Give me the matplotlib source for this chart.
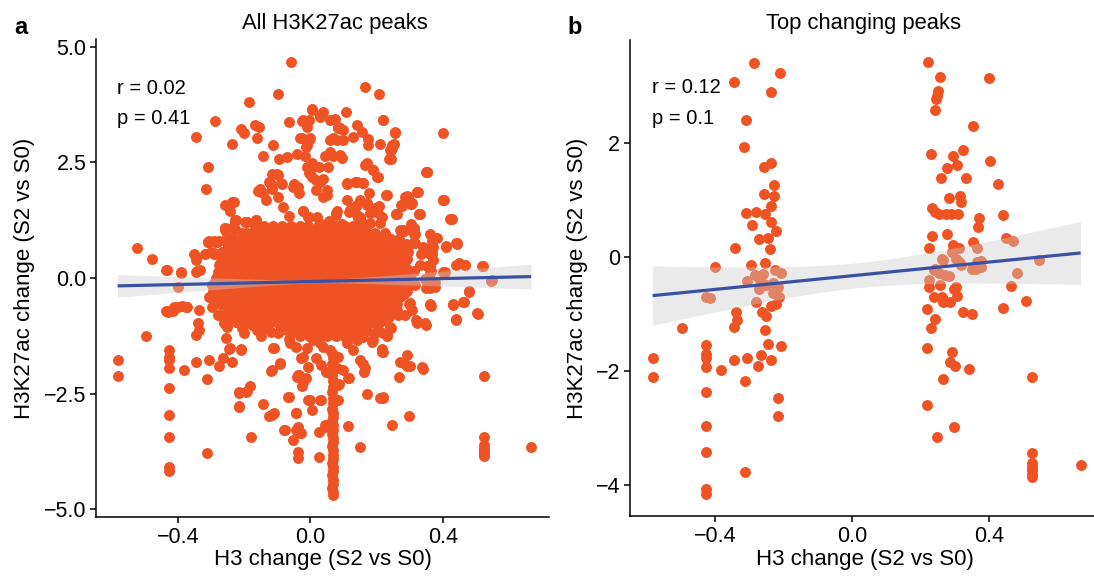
import numpy as np
import matplotlib
matplotlib.use("Agg")
import matplotlib.pyplot as plt
from matplotlib.ticker import FixedLocator, FuncFormatter

plt.rcParams['font.family'] = ['Liberation Sans', 'DejaVu Sans']

POINT_COLOR = "#F05323"
LINE_COLOR = "#3B50A2"
RIBBON_COLOR = "#CCCCCC"

# ---------------------------------------------------------------------------
# Top changing peaks: (H3 change, H3K27ac change), S2 vs S0
# ---------------------------------------------------------------------------
top_left_group = [
    (-0.287, 3.39), (-0.210, 3.22), (-0.346, 3.06), (-0.237, 2.89), (-0.309, 2.40), (-0.316, 1.92),
    (-0.257, 1.57), (-0.237, 1.64), (-0.229, 1.26), (-0.258, 1.09), (-0.229, 1.07), (-0.236, 0.89),
    (-0.309, 0.77), (-0.282, 0.78), (-0.253, 0.75), (-0.291, 0.55), (-0.236, 0.60), (-0.223, 0.45),
    (-0.272, 0.31), (-0.245, 0.32), (-0.241, 0.13), (-0.342, 0.15), (-0.400, -0.19), (-0.296, -0.15),
    (-0.255, -0.11), (-0.226, -0.24), (-0.208, -0.28), (-0.283, -0.32), (-0.307, -0.42), (-0.270, -0.41),
    (-0.252, -0.50), (-0.231, -0.46), (-0.216, -0.53), (-0.231, -0.63), (-0.273, -0.56), (-0.214, -0.71),
    (-0.260, -0.30), (-0.425, -0.71), (-0.415, -0.72), (-0.280, -0.80), (-0.236, -0.87), (-0.223, -0.83),
    (-0.338, -0.98), (-0.262, -0.98), (-0.252, -1.05), (-0.336, -1.12), (-0.346, -1.24), (-0.496, -1.25),
    (-0.255, -1.29), (-0.245, -1.53), (-0.209, -1.56), (-0.427, -1.55), (-0.427, -1.71), (-0.427, -1.77),
    (-0.582, -1.78), (-0.582, -2.12), (-0.427, -1.94), (-0.382, -1.99), (-0.345, -1.81), (-0.306, -1.78),
    (-0.265, -1.72), (-0.238, -1.81), (-0.275, -1.91), (-0.313, -2.18), (-0.427, -2.37), (-0.216, -2.48),
    (-0.216, -2.79), (-0.427, -2.97), (-0.427, -3.43), (-0.313, -3.78), (-0.427, -4.08), (-0.427, -4.17),
]

top_right_group = [
    (0.220, 3.42), (0.256, 3.15), (0.400, 3.14), (0.251, 2.91), (0.247, 2.81), (0.243, 2.76),
    (0.242, 2.57), (0.352, 2.30), (0.230, 1.80), (0.324, 1.87), (0.294, 1.76), (0.403, 1.68),
    (0.275, 1.56), (0.305, 1.60), (0.260, 1.38), (0.331, 1.38), (0.426, 1.27), (0.281, 1.02),
    (0.314, 1.06), (0.317, 0.96), (0.233, 0.86), (0.240, 0.79), (0.254, 0.74), (0.272, 0.74),
    (0.288, 0.74), (0.309, 0.75), (0.371, 0.67), (0.368, 0.52), (0.441, 0.73), (0.233, 0.37),
    (0.277, 0.40), (0.225, 0.15), (0.293, 0.20), (0.312, 0.16), (0.351, 0.25), (0.448, 0.33),
    (0.468, 0.28), (0.363, 0.15), (0.291, 0.08), (0.266, -0.06), (0.307, -0.07), (0.317, -0.15),
    (0.375, -0.08), (0.361, -0.22), (0.240, -0.22), (0.254, -0.29), (0.270, -0.32), (0.480, -0.28),
    (0.546, -0.06), (0.223, -0.41), (0.225, -0.54), (0.463, -0.51), (0.506, -0.78), (0.440, -0.90),
    (0.237, -0.71), (0.262, -0.70), (0.264, -0.79), (0.285, -0.79), (0.298, -0.56), (0.306, -0.69),
    (0.217, -0.92), (0.322, -0.97), (0.350, -1.01), (0.242, -1.09), (0.231, -1.26), (0.219, -1.61),
    (0.291, -1.67), (0.285, -1.85), (0.300, -1.91), (0.340, -1.97), (0.266, -2.15), (0.523, -2.12),
    (0.219, -2.60), (0.297, -2.98), (0.247, -3.17), (0.523, -3.45), (0.523, -3.62), (0.523, -3.69),
    (0.523, -3.74), (0.523, -3.81), (0.523, -3.86), (0.666, -3.65), (0.262, -0.04), (0.283, -0.34),
    (0.302, -0.04), (0.314, -0.11), (0.350, -0.22), (0.376, -0.19), (0.365, -0.09), (0.257, -0.50),
    (0.302, -0.53), (0.237, -0.24),
]

# ---------------------------------------------------------------------------
# Remaining H3K27ac peaks (all peaks = top changing peaks + these)
# ---------------------------------------------------------------------------
upper_peaks = [
    (-0.060, 4.68), (-0.099, 3.98), (-0.184, 3.80), (-0.066, 3.38), (-0.200, 3.13), (-0.168, 3.30),
    (-0.155, 3.26), (-0.162, 3.04), (-0.114, 2.88), (-0.144, 2.65), (-0.096, 2.57), (-0.072, 2.61),
    (-0.039, 2.68), (-0.024, 3.40), (-0.004, 3.42), (0.005, 3.65), (-0.024, 3.04), (-0.004, 2.99),
    (-0.014, 2.84), (-0.099, 2.23), (-0.054, 1.98), (-0.034, 1.83), (-0.119, 2.03), (-0.155, 1.89),
    (-0.134, 1.69), (-0.099, 1.76), (-0.084, 1.54), (-0.190, 1.22), (-0.165, 1.26), (-0.225, 1.26),
    (-0.004, 2.27), (0.017, 2.12), (0.007, 2.41), (-0.011, 2.41), (0.017, 1.90),
    (0.165, 4.13), (0.207, 3.98), (0.107, 3.59), (0.218, 3.41), (0.254, 3.14), (0.140, 3.30),
    (0.155, 3.17), (0.129, 3.06), (0.175, 3.01), (0.175, 2.88), (0.210, 2.89), (0.245, 2.88),
    (0.240, 2.77), (0.238, 2.58), (0.089, 3.24), (0.069, 3.02), (0.059, 2.99), (0.099, 2.99),
    (0.089, 2.66), (0.069, 2.63), (0.094, 2.59), (0.054, 2.41), (0.029, 3.53), (0.059, 3.42),
    (0.084, 3.27), (0.165, 2.45), (0.190, 2.34), (0.205, 2.18), (0.109, 2.03), (0.134, 2.08),
    (0.160, 2.06), (0.177, 1.85), (0.228, 1.80), (0.349, 2.29), (0.290, 1.78), (0.303, 1.60),
    (0.323, 1.86), (0.273, 1.57), (0.258, 1.39), (0.329, 1.39), (0.401, 1.68), (0.423, 1.27),
    (0.280, 1.02), (0.314, 1.08), (0.314, 0.95), (0.150, 1.69), (0.134, 1.54), (0.170, 1.58),
    (0.195, 1.51), (0.205, 1.40), (0.180, 1.40), (0.079, 1.46), (0.077, 1.36), (0.117, 1.42),
    (0.144, 1.29), (0.049, 1.80), (0.039, 2.14), (-0.116, 2.25), (-0.086, 2.04), (-0.153, 1.92),
    (-0.124, 2.08), (-0.021, 1.44), (-0.005, 1.32), (0.033, 1.16), (0.076, 1.40), (0.055, 1.24),
    (0.095, 1.16), (0.141, 1.36), (0.152, 1.24), (0.184, 1.48), (0.206, 1.56), (0.216, 1.32),
    (0.270, 1.04), (0.362, 0.96), (0.367, 0.80), (0.303, 1.16),
    (-0.158, 1.88), (-0.143, 1.83), (-0.117, 1.92), (-0.100, 2.25), (-0.090, 2.05), (-0.064, 1.34),
    (-0.050, 2.03), (-0.037, 1.98), (-0.022, 1.44), (-0.007, 1.33), (0.019, 1.33), (0.039, 1.76),
    (0.049, 1.90), (0.029, 2.08), (0.004, 2.19), (0.027, 2.41), (0.044, 2.63), (0.059, 2.73),
    (0.079, 2.99), (0.084, 3.24), (0.099, 3.20), (0.074, 3.44), (0.039, 3.60), (0.029, 3.49),
    (0.004, 3.64), (-0.022, 3.42), (-0.011, 3.27), (-0.032, 3.02), (-0.002, 3.02), (-0.011, 2.88),
    (-0.017, 2.63), (0.004, 2.48), (0.109, 2.05), (0.140, 2.08), (0.160, 2.05), (0.170, 2.48),
    (0.190, 2.34), (0.200, 2.19), (0.140, 1.58), (0.170, 1.62), (0.200, 1.47), (0.119, 1.47),
    (0.150, 1.33), (0.109, 1.69), (0.180, 1.18), (0.210, 1.18), (0.257, 1.38), (0.276, 1.58),
    (0.286, 1.76), (0.306, 1.62), (0.321, 1.87), (0.329, 1.39), (0.351, 2.30), (0.401, 1.69),
    (0.421, 1.27), (0.442, 0.75), (0.409, 0.68), (0.381, 0.86), (0.280, 1.04), (0.311, 1.04),
    (0.316, 0.75), (0.341, 0.68), (0.366, 0.61), (0.371, 0.39),
]

ring_peaks = [
    (-0.523, 0.66), (-0.477, 0.41), (-0.437, 0.18), (-0.390, 0.12), (-0.426, -0.71), (-0.437, -0.71),
    (-0.411, -0.63), (-0.307, 0.81), (-0.291, 0.81), (-0.277, 0.81), (-0.258, 1.04), (-0.242, 1.44),
    (-0.231, 1.64), (-0.229, 1.24), (-0.247, 1.56), (-0.318, 0.53), (-0.345, 0.45), (-0.350, 0.53),
    (-0.291, 0.53), (-0.269, 0.37), (-0.247, 0.29), (-0.334, 0.17), (-0.344, 0.46), (-0.344, 0.39),
    (-0.309, 0.79), (-0.289, 0.79), (-0.299, 0.57), (-0.268, 0.57), (-0.258, 1.08), (-0.233, 1.11),
    (-0.253, 0.89), (-0.198, 1.22), (-0.163, 1.26), (-0.223, 0.79), (-0.193, 0.97), (-0.434, 0.17),
    (-0.389, 0.10), (-0.344, 0.14), (-0.294, -0.15), (-0.431, -0.73), (-0.416, -0.66), (-0.386, -0.61),
    (-0.371, -0.63), (-0.336, -0.69), (-0.296, -0.62), (-0.270, -0.80), (-0.255, -0.98), (-0.245, -0.91),
    (-0.399, -0.62), (-0.374, -0.62), (0.408, 0.70), (0.440, 0.75), (0.518, 0.27), (0.430, -0.57),
    (0.362, 0.53), (0.367, 0.69), (0.335, 0.53), (0.330, 0.29), (0.346, -0.03), (0.351, -0.19),
    (0.367, -0.17), (0.362, -0.57), (0.319, -0.91), (0.346, -0.98), (0.400, 0.13), (0.364, -0.60),
    (0.430, -0.58), (0.321, -0.96), (0.361, -0.58), (0.459, -0.51), (0.502, -0.76), (0.439, -0.89),
    (0.479, -0.30), (0.520, 0.25), (0.547, -0.04), (0.406, 0.14), (0.440, 0.28), (0.467, 0.28),
    (0.361, -0.19), (0.361, 0.10), (0.361, 0.25),
]

lower_peaks = [
    (-0.200, -1.20), (-0.190, -0.95), (-0.160, -1.13), (-0.134, -1.09), (-0.119, -2.01), (-0.091, -1.83),
    (-0.109, -1.52), (-0.039, -2.14), (-0.019, -2.21), (-0.024, -2.34), (-0.064, -1.31), (-0.044, -1.49),
    (-0.029, -1.74), (-0.008, -1.92), (-0.014, -2.17), (-0.034, -2.10), (0.017, -1.74), (0.032, -1.88),
    (0.047, -2.03), (-0.190, -2.44), (-0.182, -2.33), (-0.180, -3.45), (-0.144, -2.73), (-0.126, -2.99),
    (-0.111, -2.92), (-0.079, -3.28), (-0.066, -2.57), (-0.044, -2.93), (-0.052, -3.51), (-0.038, -3.22),
    (-0.029, -3.36), (-0.036, -3.76), (-0.038, -3.90), (0.027, -3.87), (-0.008, -2.64), (0.005, -2.86),
    (0.032, -2.64), (0.027, -3.33), (0.114, -3.20), (0.150, -3.65), (0.170, -2.51), (0.210, -2.59),
    (0.218, -2.58), (0.215, -1.60), (0.158, -1.86), (0.162, -2.03), (0.117, -2.17), (0.087, -2.29),
    (0.079, -1.95), (0.054, -2.03), (0.185, -1.38), (0.240, -1.05), (0.230, -1.23), (0.044, -3.22),
    (0.084, -2.64), (0.270, -1.82), (0.292, -1.90), (0.337, -1.92), (0.216, -1.54),
    (-0.022, -1.13), (0.008, -1.34), (0.039, -1.49), (0.059, -1.56), (0.084, -1.70), (0.099, -1.99),
    (0.129, -1.56), (0.150, -1.77), (0.165, -1.95), (0.140, -1.34), (0.190, -1.34), (0.220, -1.20),
    (-0.022, -1.70), (-0.037, -2.10), (-0.022, -2.24), (-0.062, -1.41), (-0.097, -1.20), (-0.112, -1.52),
    (-0.117, -1.99), (-0.092, -1.85), (-0.002, -2.64), (0.029, -2.64), (0.079, -2.64), (0.084, -2.32),
    (0.114, -2.17), (0.044, -3.18), (-0.042, -3.29), (-0.032, -3.36), (-0.067, -2.57), (-0.077, -3.29),
    (-0.042, -2.93), (-0.117, -2.97), (-0.215, -2.46), (-0.193, -2.46), (-0.215, -2.77), (-0.243, -1.52),
    (-0.210, -1.54), (0.120, -1.10), (0.100, -1.25), (0.170, -1.15), (-0.150, -1.25), (-0.060, -1.20),
    (-0.225, -0.96), (-0.205, -1.08), (-0.175, -1.02), (-0.145, -0.99), (-0.120, -1.16), (-0.088, -1.08),
    (0.205, -1.02), (0.195, -1.18), (0.160, -1.28), (0.110, -1.40), (0.030, -1.40), (-0.010, -1.52),
]

# dense run of peaks sharing the same H3 change value
column_peaks_x = [0.066, 0.068, 0.066, 0.067, 0.065, 0.068, 0.067, 0.066, 0.068, 0.067, 0.066,
                  0.067, 0.068, 0.066, 0.067, 0.067, 0.066, 0.068, 0.067, 0.066, 0.067, 0.068,
                  0.067, 0.066, 0.067, 0.068, 0.066, 0.067, 0.067, 0.066, 0.067, 0.067]
column_peaks_y = [-1.62, -1.74, -1.86, -1.98, -2.10, -2.22, -2.35, -2.47, -2.59, -2.71, -2.83,
                  -2.92, -3.01, -3.10, -3.19, -3.28, -3.37, -3.46, -3.55, -3.64, -3.73, -3.82,
                  -3.91, -4.00, -4.09, -4.18, -4.27, -4.36, -4.45, -4.54, -4.62, -4.70]

# bulk of the peaks: (H3K27ac change, [H3 change values])
core_rows = [
    (1.12, [-0.168, -0.139, -0.114, -0.085, -0.060, -0.031, -0.006, 0.023, 0.049, 0.077, 0.104, 0.129, 0.157]),
    (0.98, [-0.205, -0.180, -0.151, -0.126, -0.098, -0.072, -0.044, -0.019, 0.010, 0.035, 0.063, 0.089,
            0.118, 0.143, 0.170, 0.196, 0.224]),
    (0.84, [-0.236, -0.209, -0.183, -0.156, -0.129, -0.103, -0.075, -0.049, -0.022, 0.004, 0.031, 0.058,
            0.084, 0.111, 0.137, 0.164, 0.190, 0.217, 0.243, 0.266]),
    (0.70, [-0.250, -0.222, -0.196, -0.168, -0.142, -0.115, -0.089, -0.061, -0.035, -0.008, 0.018, 0.045,
            0.071, 0.098, 0.124, 0.151, 0.177, 0.204, 0.231, 0.257, 0.283]),
    (0.56, [-0.262, -0.236, -0.208, -0.182, -0.155, -0.128, -0.102, -0.075, -0.048, -0.021, 0.005, 0.032,
            0.058, 0.085, 0.111, 0.138, 0.164, 0.191, 0.218, 0.244, 0.270, 0.296]),
    (0.42, [-0.268, -0.241, -0.214, -0.188, -0.161, -0.134, -0.108, -0.081, -0.055, -0.028, -0.001, 0.025,
            0.052, 0.078, 0.105, 0.132, 0.158, 0.185, 0.211, 0.238, 0.264, 0.290]),
    (0.28, [-0.276, -0.249, -0.222, -0.195, -0.169, -0.142, -0.116, -0.089, -0.062, -0.036, -0.009, 0.018,
            0.044, 0.071, 0.097, 0.124, 0.151, 0.177, 0.204, 0.230, 0.257, 0.283]),
    (0.14, [-0.280, -0.254, -0.227, -0.200, -0.174, -0.147, -0.121, -0.094, -0.067, -0.041, -0.014, 0.012,
            0.039, 0.066, 0.092, 0.119, 0.146, 0.172, 0.199, 0.225, 0.252, 0.279]),
    (0.00, [-0.286, -0.259, -0.233, -0.206, -0.180, -0.153, -0.126, -0.100, -0.073, -0.046, -0.020, 0.007,
            0.033, 0.060, 0.087, 0.113, 0.140, 0.167, 0.193, 0.220, 0.246, 0.273, 0.298]),
    (-0.14, [-0.290, -0.263, -0.237, -0.210, -0.183, -0.157, -0.130, -0.104, -0.077, -0.050, -0.024, 0.003,
             0.029, 0.056, 0.083, 0.109, 0.136, 0.162, 0.189, 0.216, 0.242, 0.269, 0.294]),
    (-0.28, [-0.294, -0.268, -0.241, -0.214, -0.188, -0.161, -0.135, -0.108, -0.081, -0.055, -0.028, -0.002,
             0.025, 0.052, 0.078, 0.105, 0.131, 0.158, 0.185, 0.211, 0.238, 0.264, 0.290]),
    (-0.42, [-0.288, -0.262, -0.235, -0.209, -0.182, -0.155, -0.129, -0.102, -0.075, -0.049, -0.022, 0.004,
             0.031, 0.058, 0.084, 0.111, 0.137, 0.164, 0.191, 0.217, 0.244, 0.270]),
    (-0.56, [-0.270, -0.243, -0.217, -0.190, -0.163, -0.137, -0.110, -0.084, -0.057, -0.030, -0.004, 0.023,
             0.049, 0.076, 0.103, 0.129, 0.156, 0.182, 0.209, 0.236, 0.262]),
    (-0.70, [-0.250, -0.224, -0.198, -0.171, -0.145, -0.118, -0.092, -0.065, -0.038, -0.012, 0.015, 0.041,
             0.068, 0.094, 0.121, 0.148, 0.174, 0.201, 0.227, 0.252]),
    (-0.84, [-0.214, -0.186, -0.160, -0.133, -0.107, -0.080, -0.053, -0.027, 0.000, 0.026, 0.053, 0.080,
             0.106, 0.133, 0.159, 0.186, 0.212, 0.236]),
    (-0.98, [-0.152, -0.126, -0.099, -0.073, -0.046, -0.019, 0.007, 0.034, 0.060, 0.087, 0.114, 0.140,
             0.167, 0.192]),
    (-1.12, [-0.071, -0.045, -0.018, 0.009, 0.035, 0.062, 0.088, 0.115, 0.142, 0.166]),
    (-1.26, [-0.030, -0.004, 0.023, 0.049, 0.076, 0.102, 0.127]),
]

# linear fits (geom_smooth, method = "lm"): line and confidence band half-width
fit_all = dict(intercept=-0.076, slope=0.161, x_mean=0.01, se0=0.03, se_slope=0.41)
fit_top = dict(intercept=-0.335, slope=0.600, x_mean=0.02, se0=0.22, se_slope=0.785)

stats_all = ("r = 0.02", "p = 0.41")
stats_top = ("r = 0.12", "p = 0.1")


def unzip(pairs):
    return [p[0] for p in pairs], [p[1] for p in pairs]


top_x, top_y = unzip(top_left_group + top_right_group)

all_x, all_y = list(top_x), list(top_y)
for group in (upper_peaks, ring_peaks, lower_peaks):
    gx, gy = unzip(group)
    all_x += gx
    all_y += gy
all_x += column_peaks_x
all_y += column_peaks_y
for yv, xs in core_rows:
    all_x += xs
    all_y += [yv] * len(xs)


def minus_fmt(fmt):
    return FuncFormatter(lambda v, pos: (fmt % v).replace("-", "\u2212"))


def style_axes(ax):
    for side in ("top", "right"):
        ax.spines[side].set_visible(False)
    for side in ("left", "bottom"):
        ax.spines[side].set_linewidth(1.1)
        ax.spines[side].set_color("black")
    ax.tick_params(axis="both", direction="out", length=4, width=1.1,
                   colors="black", labelsize=15.5, pad=3)


def draw_fit(ax, xs, fit):
    xg = np.linspace(min(xs), max(xs), 120)
    yg = fit["intercept"] + fit["slope"] * xg
    hw = np.sqrt(fit["se0"] ** 2 + (fit["se_slope"] * (xg - fit["x_mean"])) ** 2)
    ax.fill_between(xg, yg - hw, yg + hw, color=RIBBON_COLOR, alpha=0.4, lw=0, zorder=3)
    ax.plot(xg, yg, color=LINE_COLOR, lw=2.3, zorder=4, solid_capstyle="butt")


W, H = 1094, 578
fig = plt.figure(figsize=(W / 100, H / 100), dpi=100)

ax_a = fig.add_axes([96 / W, 1 - 517 / H, 453 / W, (517 - 38.6) / H])
ax_b = fig.add_axes([630 / W, 1 - 516 / H, (W - 630) / W, (516 - 40) / H])

MS = 62

# panel a: all peaks
ax_a.scatter(all_x, all_y, s=MS, color=POINT_COLOR, linewidths=0, zorder=2)
draw_fit(ax_a, all_x, fit_all)
ax_a.set_xlim(-0.647, 0.72)
ax_a.set_ylim(-5.17, 5.18)
ax_a.xaxis.set_major_locator(FixedLocator([-0.4, 0.0, 0.4]))
ax_a.yaxis.set_major_locator(FixedLocator([-5.0, -2.5, 0.0, 2.5, 5.0]))
ax_a.xaxis.set_major_formatter(minus_fmt("%.1f"))
ax_a.yaxis.set_major_formatter(minus_fmt("%.1f"))
style_axes(ax_a)
ax_a.text(-0.585, 4.11, stats_all[0], fontsize=14.5, va="center", ha="left")
ax_a.text(-0.585, 3.46, stats_all[1], fontsize=14.5, va="center", ha="left")

# panel b: top changing peaks
ax_b.scatter(top_x, top_y, s=MS, color=POINT_COLOR, linewidths=0, zorder=2)
draw_fit(ax_b, top_x, fit_top)
ax_b.set_xlim(-0.648, 0.705)
ax_b.set_ylim(-4.55, 3.80)
ax_b.xaxis.set_major_locator(FixedLocator([-0.4, 0.0, 0.4]))
ax_b.yaxis.set_major_locator(FixedLocator([-4, -2, 0, 2]))
ax_b.xaxis.set_major_formatter(minus_fmt("%.1f"))
ax_b.yaxis.set_major_formatter(minus_fmt("%d"))
style_axes(ax_b)
ax_b.text(-0.585, 2.96, stats_top[0], fontsize=14.5, va="center", ha="left")
ax_b.text(-0.585, 2.43, stats_top[1], fontsize=14.5, va="center", ha="left")

# titles, panel letters and axis labels
fig.text(335 / W, 1 - 23 / H, "All H3K27ac peaks", fontsize=15.8, ha="center", va="center")
fig.text(864 / W, 1 - 23 / H, "Top changing peaks", fontsize=15.8, ha="center", va="center")
fig.text(14 / W, 1 - 27 / H, "a", fontsize=17, fontweight="bold", ha="left", va="center")
fig.text(567 / W, 1 - 27 / H, "b", fontsize=17, fontweight="bold", ha="left", va="center")

fig.text(323 / W, 1 - 560 / H, "H3 change (S2 vs S0)", fontsize=16, ha="center", va="center")
fig.text(865 / W, 1 - 560 / H, "H3 change (S2 vs S0)", fontsize=16, ha="center", va="center")
fig.text(25 / W, 1 - 278 / H, "H3K27ac change (S2 vs S0)", fontsize=16, ha="center",
         va="center", rotation=90)
fig.text(577 / W, 1 - 278 / H, "H3K27ac change (S2 vs S0)", fontsize=16, ha="center",
         va="center", rotation=90)

fig.savefig("out.png", dpi=100)
